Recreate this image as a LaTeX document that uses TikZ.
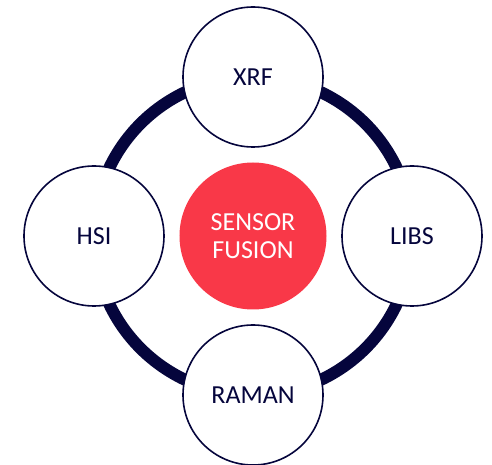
\documentclass[tikz,border=0pt]{standalone}
\usepackage{fontspec}
\setmainfont{Carlito}
\usepackage{xcolor}
\usepackage{tikz}
\usetikzlibrary{positioning}
\definecolor{navy}{HTML}{05053C}
\definecolor{coral}{HTML}{F93848}

\tikzset{
  sensor/.style={circle,draw=navy,line width=1.6pt,fill=white,minimum size=140pt,
    inner sep=0pt,text=navy,font=\fontsize{26}{28}\selectfont},
  hub/.style={circle,fill=coral,minimum size=147pt,inner sep=0pt,text=white,
    align=center,font=\fontsize{26}{28}\selectfont},
  ring/.style={draw=navy,line width=12pt}
}

\begin{document}
\begin{tikzpicture}[x=1pt,y=1pt]
\useasboundingbox (-253,-229) rectangle (239,236);
\node[hub] (fusion) at (0,0) {SENSOR\\FUSION};
% outer loop behind the four sensors
\draw[ring] (fusion.center) circle (159);
\node[sensor] (xrf) at (90:159) {XRF};
\node[sensor] (libs) at (0:159) {LIBS};
\node[sensor] (raman) at (270:159) {RAMAN};
\node[sensor] (hsi) at (180:159) {HSI};
\end{tikzpicture}
\end{document}
